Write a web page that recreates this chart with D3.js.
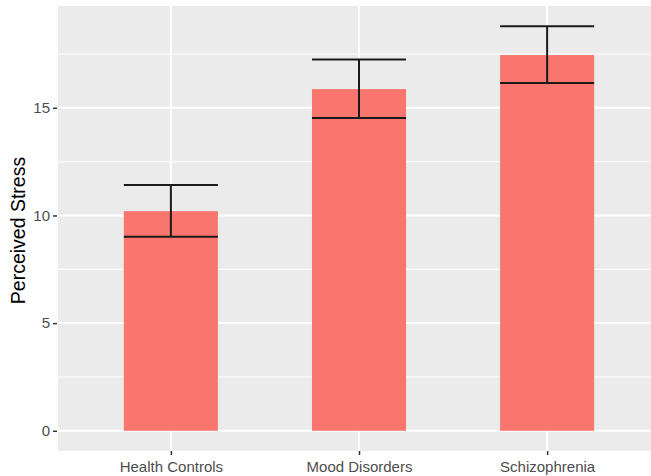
<!DOCTYPE html>
<html>
<head>
<meta charset="utf-8">
<script src="https://cdn.jsdelivr.net/npm/d3@7"></script>
<style>
  html, body { margin: 0; padding: 0; background: #ffffff; }
  svg { display: block; font-family: "Liberation Sans", Arial, sans-serif; }
</style>
</head>
<body>
<svg id="chart" width="651" height="476"></svg>
<script>
// Perceived stress by group: mean with error bars
const groups = ["Health Controls", "Mood Disorders", "Schizophrenia"];
const meanStress = [10.2, 15.87, 17.45];
const lowerStress = [9.01, 14.53, 16.15];
const upperStress = [11.41, 17.24, 18.79];
const yTicks = [0, 5, 10, 15];
const yMinorTicks = [2.5, 7.5, 12.5, 17.5];
const yTitle = "Perceived Stress";

const W = 651, H = 476;
const panel = { left: 58, right: 660, top: 6, bottom: 451 };

const svg = d3.select("#chart");

// Discrete x positions 1..n with 0.6 units of padding on both sides
const x = d3.scaleLinear()
  .domain([0.4, groups.length + 0.6])
  .range([panel.left, panel.right]);

// Continuous y with 5% expansion of the data range
const yHi = d3.max(upperStress), yLo = 0;
const pad = 0.05 * (yHi - yLo);
const y = d3.scaleLinear()
  .domain([yLo - pad, yHi + pad])
  .range([panel.bottom, panel.top]);

const barHalf = 0.25;

// Panel background
svg.append("rect")
  .attr("x", panel.left).attr("y", panel.top)
  .attr("width", panel.right - panel.left)
  .attr("height", panel.bottom - panel.top)
  .attr("fill", "#EBEBEB");

const grid = svg.append("g");
// minor horizontal grid
grid.selectAll("line.minor").data(yMinorTicks).join("line")
  .attr("x1", panel.left).attr("x2", panel.right)
  .attr("y1", d => y(d)).attr("y2", d => y(d))
  .attr("stroke", "#ffffff").attr("stroke-width", 1);
// major horizontal grid
grid.selectAll("line.major").data(yTicks).join("line")
  .attr("x1", panel.left).attr("x2", panel.right)
  .attr("y1", d => y(d)).attr("y2", d => y(d))
  .attr("stroke", "#ffffff").attr("stroke-width", 2);
// vertical grid at categories
grid.selectAll("line.vert").data(groups).join("line")
  .attr("x1", (d, i) => x(i + 1)).attr("x2", (d, i) => x(i + 1))
  .attr("y1", panel.top).attr("y2", panel.bottom)
  .attr("stroke", "#ffffff").attr("stroke-width", 2);

// Bars
svg.append("g").selectAll("rect").data(meanStress).join("rect")
  .attr("x", (d, i) => x(i + 1 - barHalf))
  .attr("width", (d, i) => x(i + 1 + barHalf) - x(i + 1 - barHalf))
  .attr("y", d => y(d))
  .attr("height", d => y(0) - y(d))
  .attr("fill", "#F8766D");

// Error bars
const eb = svg.append("g").attr("stroke", "#1a1a1a").attr("stroke-width", 2).attr("fill", "none");
groups.forEach((g, i) => {
  const cx = x(i + 1), x0 = x(i + 1 - barHalf), x1 = x(i + 1 + barHalf);
  eb.append("line").attr("x1", cx).attr("x2", cx)
    .attr("y1", y(lowerStress[i])).attr("y2", y(upperStress[i]));
  eb.append("line").attr("x1", x0).attr("x2", x1)
    .attr("y1", y(upperStress[i])).attr("y2", y(upperStress[i]));
  eb.append("line").attr("x1", x0).attr("x2", x1)
    .attr("y1", y(lowerStress[i])).attr("y2", y(lowerStress[i]));
});

// Y axis
const yAxis = d3.axisLeft(y).tickValues(yTicks).tickSize(4).tickPadding(3).tickFormat(d3.format("d"));
const yg = svg.append("g").attr("transform", `translate(${panel.left - 1},0)`).call(yAxis);
yg.select(".domain").remove();
yg.selectAll(".tick line").attr("stroke", "#333333").attr("stroke-width", 1.5);
yg.selectAll(".tick text").attr("fill", "#4D4D4D").attr("font-size", 15)
  .attr("font-family", "Liberation Sans, Arial, sans-serif");

// X axis
const xAxis = d3.axisBottom(x).tickValues(groups.map((g, i) => i + 1))
  .tickSize(4).tickPadding(6).tickFormat((d, i) => groups[i]);
const xg = svg.append("g").attr("transform", `translate(0,${panel.bottom})`).call(xAxis);
xg.select(".domain").remove();
xg.selectAll(".tick line").attr("stroke", "#333333").attr("stroke-width", 1.5);
xg.selectAll(".tick text").attr("fill", "#4D4D4D").attr("font-size", 15)
  .attr("font-family", "Liberation Sans, Arial, sans-serif");

// Y title
svg.append("text")
  .attr("transform", `translate(25,${(panel.top + panel.bottom) / 2 + 2}) rotate(-90)`)
  .attr("text-anchor", "middle")
  .attr("font-size", 19.5)
  .attr("fill", "#000000")
  .text(yTitle);
</script>
</body>
</html>
